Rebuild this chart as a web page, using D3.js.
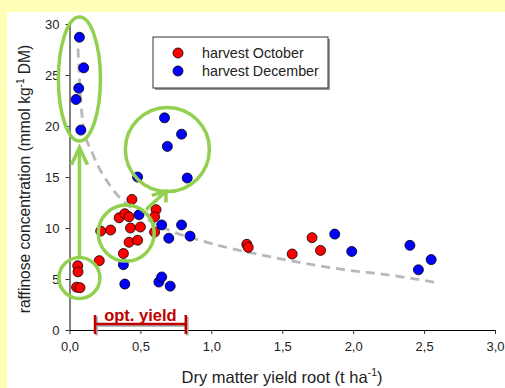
<!DOCTYPE html>
<html>
<head>
<meta charset="utf-8">
<script src="https://cdn.jsdelivr.net/npm/d3@7"></script>
<style>
  body { margin: 0; background: #ffffb8; }
  svg { display: block; font-family: "Liberation Sans", Arial, sans-serif; }
</style>
</head>
<body>
<div id="chart"></div>
<script>
// values: [dry matter yield root, raffinose]
const october = [
  [0.058, 6.3], [0.06, 5.7], [0.05, 4.2], [0.074, 4.15], [0.21, 6.8],
  [0.22, 9.7], [0.29, 9.8], [0.35, 11.0], [0.39, 11.4], [0.42, 11.1],
  [0.44, 12.8], [0.43, 10.0], [0.50, 10.1], [0.42, 8.6], [0.48, 8.8],
  [0.38, 7.5], [0.61, 11.8], [0.60, 11.1], [0.60, 9.6], [1.25, 8.4],
  [1.26, 8.1], [1.57, 7.45], [1.71, 9.05], [1.77, 7.8]
];
const december = [
  [0.07, 28.7], [0.10, 25.7], [0.065, 23.7], [0.046, 22.6], [0.08, 19.6],
  [0.67, 20.8], [0.79, 19.2], [0.69, 18.0], [0.48, 15.0], [0.83, 14.9],
  [0.49, 11.3], [0.65, 10.3], [0.79, 10.3], [0.70, 9.0], [0.85, 9.2],
  [0.38, 6.4], [0.39, 4.5], [0.63, 4.7], [0.65, 5.2], [0.71, 4.3],
  [1.87, 9.4], [1.99, 7.7], [2.40, 8.3], [2.46, 5.9], [2.55, 6.9]
];
// dashed trend line
const trend = [
  [0.06, 27.6], [0.075, 23.5], [0.10, 19.8], [0.16, 17.4], [0.31, 13.7],
  [0.45, 11.8], [0.70, 9.8], [0.92, 8.8], [1.48, 7.0], [2.0, 5.8],
  [2.19, 5.5], [2.57, 4.7]
];
const xTicks = [0, 0.5, 1, 1.5, 2, 2.5, 3];
const yTicks = [0, 5, 10, 15, 20, 25, 30];
const seriesNames = ["harvest October", "harvest December"];
const seriesColors = ["#ff0000", "#0000ff"];
const optYield = [0.18, 0.82];

const width = 505, height = 388;
const green = "#92d050", darkRed = "#c00000";

let svg = d3.select("#chart").append("svg")
    .attr("width", width)
    .attr("height", height);

svg.append("rect")
    .attr("x", 7).attr("y", 12)
    .attr("width", width - 7).attr("height", height - 12)
    .attr("fill", "#ffffff");

let x = d3.scaleLinear().domain([0, 3]).range([69.5, 495]);
let y = d3.scaleLinear().domain([0, 30]).range([330, 24]);

let fmt = d => d3.format(".1f")(d).replace(".", ",");

let xAxis = svg.append("g")
    .attr("transform", `translate(0, ${y(0)})`)
    .call(d3.axisBottom(x).tickValues(xTicks).tickFormat(fmt).tickSize(4).tickPadding(8).tickSizeOuter(0));
let yAxis = svg.append("g")
    .attr("transform", `translate(${x(0)}, 0)`)
    .call(d3.axisLeft(y).tickValues(yTicks).tickSize(4).tickPadding(6).tickSizeOuter(0));

[xAxis, yAxis].forEach(function(a) {
    a.select(".domain").attr("stroke", "#000");
    a.selectAll(".tick line").attr("stroke", "#333");
    a.selectAll("text").attr("font-size", 13).attr("fill", "#222")
        .attr("font-family", "Liberation Sans, Arial, sans-serif");
});

// axis titles
let xt = svg.append("text")
    .attr("x", 282).attr("y", 383)
    .attr("text-anchor", "middle")
    .attr("font-size", 16.5).attr("fill", "#222");
xt.append("tspan").text("Dry matter yield root (t ha");
xt.append("tspan").attr("font-size", 10.5).attr("dy", -7).text("-1");
xt.append("tspan").attr("dy", 7).text(")");

let yt = svg.append("text")
    .attr("transform", "translate(30, 179) rotate(-90)")
    .attr("text-anchor", "middle")
    .attr("font-size", 15.6).attr("fill", "#222");
yt.append("tspan").text("raffinose concentration (mmol kg");
yt.append("tspan").attr("font-size", 10).attr("dy", -6).text("-1");
yt.append("tspan").attr("dy", 6).text(" DM)");

// trend line
svg.append("path")
    .datum(trend)
    .attr("fill", "none")
    .attr("stroke", "#b8b8b8")
    .attr("stroke-width", 2.8)
    .attr("stroke-dasharray", "9,6")
    .attr("d", d3.line().x(d => x(d[0])).y(d => y(d[1])).curve(d3.curveMonotoneX));

// points: December first, October on top
[[december, seriesColors[1]], [october, seriesColors[0]]].forEach(function(s) {
    svg.append("g").selectAll("circle")
        .data(s[0])
        .enter()
        .append("circle")
        .attr("cx", d => x(d[0]))
        .attr("cy", d => y(d[1]))
        .attr("r", 5)
        .attr("fill", s[1])
        .attr("stroke", "#000")
        .attr("stroke-width", 0.8);
});

// legend
let lg = svg.append("g").attr("transform", "translate(153, 37)");
lg.append("rect").attr("x", 2).attr("y", 2).attr("width", 175).attr("height", 51).attr("fill", "#9a9a9a");
lg.append("rect").attr("width", 175).attr("height", 51).attr("fill", "#fff").attr("stroke", "#333").attr("stroke-width", 1);
seriesNames.forEach(function(n, i) {
    lg.append("circle").attr("cx", 25).attr("cy", 16 + i * 18).attr("r", 5)
        .attr("fill", seriesColors[i]).attr("stroke", "#000").attr("stroke-width", 0.8);
    lg.append("text").attr("x", 49).attr("y", 21 + i * 18)
        .attr("font-size", 14.3).attr("fill", "#222").text(n);
});

// green annotations
let ann = svg.append("g").attr("fill", "none").attr("stroke", green).attr("stroke-width", 3.5);
ann.append("ellipse").attr("cx", x(0.07)).attr("cy", y(24.6)).attr("rx", 21).attr("ry", 62);
ann.append("circle").attr("cx", x(0.07)).attr("cy", y(5.1)).attr("r", 20.5);
ann.append("circle").attr("cx", x(0.40)).attr("cy", y(9.5)).attr("r", 28);
ann.append("circle").attr("cx", x(0.69)).attr("cy", y(17.7)).attr("r", 42);

ann.append("line").attr("x1", x(0.07)).attr("y1", y(7.2)).attr("x2", x(0.07)).attr("y2", y(17.9));
ann.append("polyline")
    .attr("points", `${x(0.07) - 8},${y(16.2)} ${x(0.07)},${y(17.9)} ${x(0.07) + 8},${y(16.2)}`);
ann.append("line").attr("x1", x(0.54)).attr("y1", y(11.8)).attr("x2", x(0.68)).attr("y2", y(13.6));
ann.append("polyline")
    .attr("points", `${x(0.58)},${y(13.2)} ${x(0.68)},${y(13.6)} ${x(0.68)},${y(12.5)}`);

// optimum yield bracket
let br = svg.append("g");
[[1.5, "#a8a8a8"], [0, darkRed]].forEach(function(b) {
    let g = br.append("g").attr("transform", `translate(${b[0]}, ${b[0]})`)
        .attr("stroke", b[1]).attr("stroke-width", 2.5);
    g.append("line").attr("x1", x(optYield[0])).attr("x2", x(optYield[1])).attr("y1", 324).attr("y2", 324);
    g.append("line").attr("x1", x(optYield[0])).attr("x2", x(optYield[0])).attr("y1", 315).attr("y2", 334);
    g.append("line").attr("x1", x(optYield[1])).attr("x2", x(optYield[1])).attr("y1", 315).attr("y2", 334);
});
br.append("text")
    .attr("x", (x(optYield[0]) + x(optYield[1])) / 2).attr("y", 321)
    .attr("text-anchor", "middle")
    .attr("font-size", 16.5).attr("font-weight", "bold").attr("fill", darkRed)
    .text("opt. yield");
</script>
</body>
</html>
